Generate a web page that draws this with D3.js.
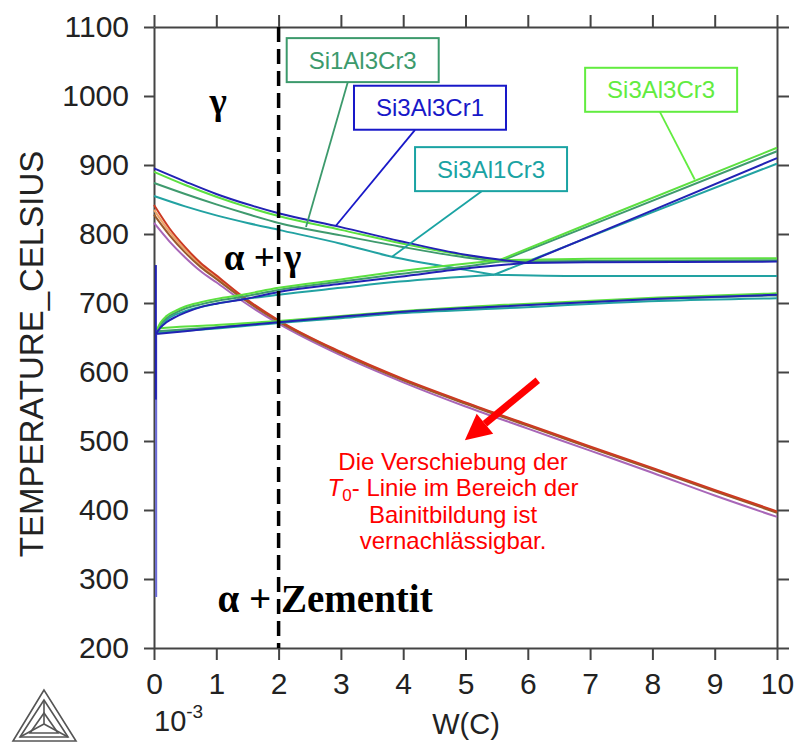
<!DOCTYPE html>
<html>
<head>
<meta charset="utf-8">
<script src="https://cdn.jsdelivr.net/npm/d3@7"></script>
<style>
  body { margin: 0; background: #fff; }
  svg { display: block; }
</style>
</head>
<body>
<div id="chart"></div>
<script>
// ticks
const xTicks = [0, 1, 2, 3, 4, 5, 6, 7, 8, 9, 10];
const yTicks = [200, 300, 400, 500, 600, 700, 800, 900, 1000, 1100];

// upper gamma boundary (A3), [w(C) * 1e3, T]
const a3Blue = [[0,895],[0.5,876],[1,858],[1.5,843],[2,830],[3,810],[3.94,790],[5,770],[5.97,758]];
const a3Green = [[0,890],[0.5,871],[1,854],[1.5,839],[2,826],[3,806],[3.94,787],[5,769],[5.54,762]];
const a3DarkGreen = [[0,874],[0.5,858],[1,843],[1.5,829],[2,816],[3,798],[3.94,782],[5,766],[5.54,760]];
const a3Teal = [[0,855],[0.5,840],[1,827],[1.5,816],[2,806],[3,786],[3.82,767],[5,748],[5.46,741]];

// alpha+gamma upper line rising from 655
const riseBlue = [[0.03,655],[0.1,664],[0.2,672],[0.35,680],[0.5,686],[0.75,694],[1,699],[1.42,705],[2,716],[3,728],[3.94,738],[5.1,751],[5.97,758]];
const riseGreen = [[0.05,662],[0.1,671],[0.2,681],[0.35,689],[0.5,695],[0.75,701],[1,706],[1.42,712],[2,722],[3,734],[3.94,746],[5.1,758],[5.54,762]];
const riseDarkGreen = [[0.05,660],[0.1,668],[0.2,678],[0.35,686],[0.5,692],[0.75,698],[1,703],[1.42,709],[2,719],[3,731],[3.94,742],[5.1,754],[5.54,760]];
const riseTeal = [[0.05,658],[0.2,675],[0.5,688],[1,699],[2,712],[3,722],[3.94,731],[5.46,741]];

// Acm lines
const acmBlue = [[5.97,758],[7.78,826],[10,910]];
const acmGreen = [[5.54,762],[7.25,825],[10,925]];
const acmDarkGreen = [[5.54,760],[7.3,823],[10,920]];
const acmTeal = [[5.46,741],[7.5,814],[10,902]];

// three phase upper lines
const flatBlue = [[5.97,758],[7,759],[10,760]];
const flatGreen = [[5.54,762],[7,764],[10,765]];
const flatDarkGreen = [[5.54,760],[7,761],[10,762]];
const flatTeal = [[5.46,741],[7,739],[10,739]];

// three phase lower lines
const lowBlue = [[0.03,655],[0.5,659],[1,664],[2,672],[3,680],[3.94,687],[5.54,695],[8.1,706],[10,712]];
const lowGreen = [[0.05,663],[0.5,666],[1,668],[2,674],[3,681],[3.94,688],[5.54,697],[8.1,708],[10,714]];
const lowDarkGreen = [[0.05,659],[1,665],[2,673],[3,680],[3.94,687],[5.54,695],[8.1,706],[10,711]];
const lowTeal = [[0.05,657],[1,663],[2,671],[3,678],[3.94,685],[5.54,692],[8.1,703],[10,707]];

// near-zero carbon lines
const vertBlue = [[0.03,755],[0.03,655],[0.03,560]];
const vertLight = [[0.035,655],[0.035,274]];

// T0 lines
const t0Red = [[0,842],[0.25,808],[0.5,781],[0.75,758],[1,740],[1.4,711],[2,675],[3,629],[4,590],[5,556],[6,524],[7,492],[8,461],[9,429],[10,398]];
const t0Orange = [[0,835],[0.25,803],[0.5,777],[0.75,755],[1,737],[1.4,709],[2,674],[3,628],[4,589],[5,555],[6,523],[7,491],[8,460],[9,428],[10,397]];
const t0Brown = [[0,828],[0.25,798],[0.5,773],[0.75,752],[1,735],[1.4,708],[2,673],[3,627],[4,588],[5,554],[6,522],[7,490],[8,459],[9,427],[10,396]];
const t0Purple = [[0,816],[0.25,789],[0.5,766],[0.75,746],[1,730],[1.4,704],[2,670],[3,624],[4,585],[5,550],[6,518],[7,486],[8,454],[9,421],[10,390]];

// composition labels: box centre, leader start, leader end (data units)
const labelNames = ["Si1Al3Cr3", "Si3Al3Cr1", "Si3Al1Cr3", "Si3Al3Cr3"];
const labelBox = [[3.35,1052],[4.43,983],[5.41,894],[8.14,1009]];
const labelFrom = [[3.11,1020],[4.19,951],[5.26,862],[8.12,977]];
const labelTo = [[2.44,810],[2.92,812],[3.82,767],[8.68,879]];

const redLines = ["Die Verschiebung der", "- Linie im Bereich der", "Bainitbildung ist", "vernachlässigbar."];

const W = 795, H = 749;
const svg = d3.select("#chart").append("svg").attr("width", W).attr("height", H);

const x = d3.scaleLinear().domain([0, 10]).range([154, 777]);
const y = d3.scaleLinear().domain([200, 1100]).range([648, 27]);

const sans = "'Liberation Sans', Arial, Helvetica, sans-serif";
const serif = "'Liberation Serif', 'Times New Roman', serif";

const colBlue = "#2222b4", colGreen = "#5ce040", colDark = "#3f9a6e", colTeal = "#22a2a2";

const smooth = d3.line().x(d => x(d[0])).y(d => y(d[1])).curve(d3.curveMonotoneX);
const straight = d3.line().x(d => x(d[0])).y(d => y(d[1]));

function draw(data, color, w, gen) {
    svg.append("path")
        .attr("d", (gen || smooth)(data))
        .attr("fill", "none")
        .attr("stroke", color)
        .attr("stroke-width", w || 2)
        .attr("stroke-linejoin", "round");
}

// axes (drawn first so curves near x=0 stay visible)
const axisColor = "#444";
const gl = svg.append("g").attr("transform", `translate(${x(0)},0)`)
    .call(d3.axisLeft(y).tickValues(yTicks).tickSize(10).tickSizeOuter(0).tickPadding(15).tickFormat(d3.format("d")));
const gb = svg.append("g").attr("transform", `translate(0,${y(200)})`)
    .call(d3.axisBottom(x).tickValues(xTicks).tickSize(12).tickSizeOuter(0).tickPadding(13));
const gt = svg.append("g").attr("transform", `translate(0,${y(1100)})`)
    .call(d3.axisTop(x).tickValues(xTicks).tickSize(12).tickSizeOuter(0).tickFormat(""));
const gr = svg.append("g").attr("transform", `translate(${x(10)},0)`)
    .call(d3.axisRight(y).tickValues(yTicks).tickSize(12).tickSizeOuter(0).tickFormat(""));
[gl, gb, gt, gr].forEach(g => {
    g.selectAll("path.domain").attr("stroke", axisColor).attr("stroke-width", 2);
    g.selectAll(".tick line").attr("stroke", axisColor).attr("stroke-width", 2);
    g.selectAll(".tick text").attr("fill", "#222").style("font-family", sans).style("font-size", "30px");
});

// T0 lines
draw(t0Purple, "#a866b8", 2);
draw(t0Orange, "#eea468", 2);
draw(t0Brown, "#9a5a2a", 2);
draw(t0Red, "#cc3a22", 2);

const groups = [
    [colTeal, a3Teal, riseTeal, acmTeal, flatTeal, lowTeal],
    [colDark, a3DarkGreen, riseDarkGreen, acmDarkGreen, flatDarkGreen, lowDarkGreen],
    [colGreen, a3Green, riseGreen, acmGreen, flatGreen, lowGreen],
    [colBlue, a3Blue, riseBlue, acmBlue, flatBlue, lowBlue]
];
groups.forEach(g => {
    g.slice(1).forEach(d => draw(d, g[0], 2));
});
draw(vertLight, "#6a6ad8", 2, straight);
draw(vertBlue, colBlue, 2, straight);

// dashed reference line at 2e-3
svg.append("line")
    .attr("x1", x(2)).attr("x2", x(2))
    .attr("y1", y(1100)).attr("y2", y(200))
    .attr("stroke", "#000").attr("stroke-width", 3.5)
    .attr("stroke-dasharray", "15,7");

// axis titles
svg.append("text")
    .attr("transform", "translate(43,354) rotate(-90)")
    .attr("text-anchor", "middle")
    .style("font-family", sans).style("font-size", "33px").attr("fill", "#222")
    .text("TEMPERATURE_CELSIUS");

const pow = svg.append("text")
    .attr("x", x(0)).attr("y", 731)
    .style("font-family", sans).style("font-size", "29px").attr("fill", "#222");
pow.append("tspan").text("10");
pow.append("tspan").attr("dy", -13).style("font-size", "19px").text("-3");

svg.append("text")
    .attr("x", 466).attr("y", 734)
    .attr("text-anchor", "middle")
    .style("font-family", sans).style("font-size", "29px").attr("fill", "#222")
    .text("W(C)");

// composition labels
const labelColors = ["#3c9a6c", "#1818c8", "#1aa3a3", "#62ec40"];
labelNames.forEach((name, i) => {
    const cx = x(labelBox[i][0]), cy = y(labelBox[i][1]);
    svg.append("line")
        .attr("x1", x(labelFrom[i][0])).attr("y1", y(labelFrom[i][1]))
        .attr("x2", x(labelTo[i][0])).attr("y2", y(labelTo[i][1]))
        .attr("stroke", labelColors[i]).attr("stroke-width", 1.8);
    svg.append("rect")
        .attr("x", cx - 76).attr("y", cy - 22)
        .attr("width", 152).attr("height", 44)
        .attr("fill", "#fff")
        .attr("stroke", labelColors[i]).attr("stroke-width", 2);
    svg.append("text")
        .attr("x", cx).attr("y", cy + 8.5)
        .attr("text-anchor", "middle")
        .style("font-family", sans).style("font-size", "24px")
        .attr("fill", labelColors[i])
        .text(name);
});

// phase region labels
function phase(txt, px, py, anchor, size) {
    svg.append("text")
        .attr("x", x(px)).attr("y", y(py))
        .attr("text-anchor", anchor)
        .style("font-family", serif).style("font-size", size + "px").style("font-weight", "bold")
        .attr("fill", "#000")
        .text(txt);
}
phase("γ", 1.03, 974, "middle", 37);
phase("α + γ", 1.12, 748, "start", 37);
phase("α + Zementit", 1.02, 252, "start", 39);

// red note
const note = svg.append("text")
    .attr("text-anchor", "middle")
    .style("font-family", sans).style("font-size", "24px")
    .attr("fill", "#ff0000");
const nx = x(4.8), ny = y(458);
note.append("tspan").attr("x", nx).attr("y", ny).text(redLines[0]);
const l2 = note.append("tspan").attr("x", nx).attr("y", ny + 26.5);
l2.append("tspan").style("font-style", "italic").text("T");
l2.append("tspan").attr("dy", 5).style("font-size", "17px").text("0");
l2.append("tspan").attr("dy", -5).text(redLines[1]);
note.append("tspan").attr("x", nx).attr("y", ny + 53).text(redLines[2]);
note.append("tspan").attr("x", nx).attr("y", ny + 79).text(redLines[3]);

// red arrow
const tail = [x(6.16), y(588)], tip = [x(4.99), y(501)];
const ang = Math.atan2(tip[1] - tail[1], tip[0] - tail[0]);
const hl = 26, hw = 13;
const base = [tip[0] - hl * Math.cos(ang), tip[1] - hl * Math.sin(ang)];
svg.append("line")
    .attr("x1", tail[0]).attr("y1", tail[1])
    .attr("x2", base[0]).attr("y2", base[1])
    .attr("stroke", "#ff0000").attr("stroke-width", 7);
svg.append("polygon")
    .attr("points", [
        tip,
        [base[0] + hw * Math.sin(ang), base[1] - hw * Math.cos(ang)],
        [base[0] - hw * Math.sin(ang), base[1] + hw * Math.cos(ang)]
    ].map(p => p.join(",")).join(" "))
    .attr("fill", "#ff0000");

// Thermo-Calc logo
const logo = svg.append("g").attr("fill", "none").attr("stroke", "#555").attr("stroke-width", 1.6);
const A = [44, 690], B = [13, 741], C = [76, 741];
const O = [44, 724];
logo.append("polygon").attr("points", [A, B, C].map(p => p.join(",")).join(" "));
logo.append("polygon").attr("points", [[44, 700], [20, 737], [68, 737]].map(p => p.join(",")).join(" "));
logo.append("polyline").attr("points", [[44, 700], O, [20, 737]].map(p => p.join(",")).join(" "));
logo.append("line").attr("x1", O[0]).attr("y1", O[1]).attr("x2", 68).attr("y2", 737);
logo.append("polygon").attr("points", [[44, 713], [30, 733], [58, 733]].map(p => p.join(",")).join(" "));
</script>
</body>
</html>
